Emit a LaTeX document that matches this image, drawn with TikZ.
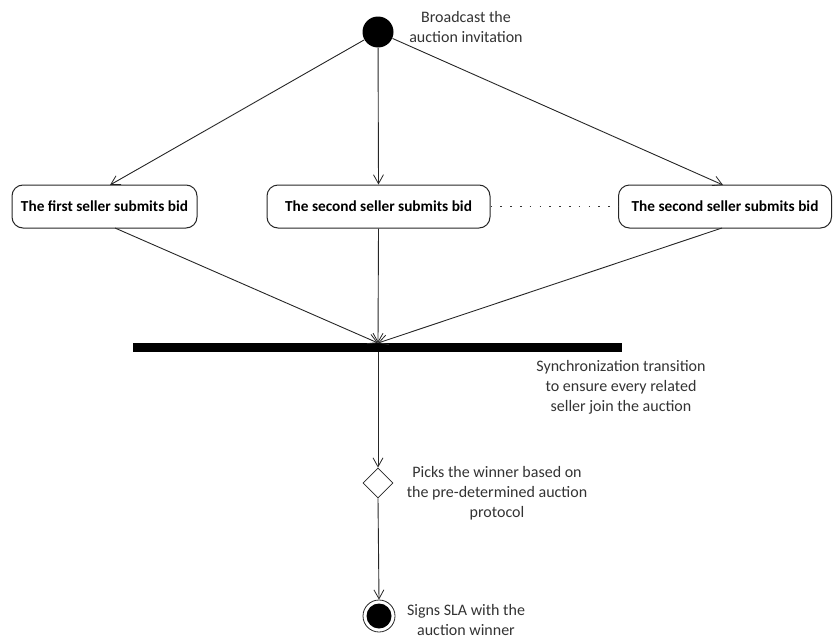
\documentclass[tikz,border=0pt]{standalone}
\usepackage{fontspec}
\setmainfont{Carlito}
\usetikzlibrary{arrows.meta,shapes.geometric}
\begin{document}
\begin{tikzpicture}[x=1pt,y=-1pt,
  line width=0.9pt,
  flow/.style={draw=black!85, -{Straight Barb[length=9pt,width=10pt,line width=0.8pt]}},
  act/.style={draw=black!85, rounded corners=11pt, line width=1pt, font=\fontsize{15.3}{17}\selectfont\bfseries, inner sep=0pt},
  note/.style={align=center, font=\fontsize{16}{20}\selectfont, text=black!80}
]
\useasboundingbox (0,0) rectangle (833,640);
% start
\node[circle, fill=black, minimum size=31pt, inner sep=0pt] (start) at (378,32) {};
\node[note] (tstart) at (466,27) {Broadcast the\\auction invitation};
% activities
\node[act, minimum width=185pt, minimum height=43pt] (b1) at (104.5,206.5) {The first seller submits bid};
\node[act, minimum width=223pt, minimum height=43pt] (b2) at (378.5,206.5) {The second seller submits bid};
\node[act, minimum width=213pt, minimum height=43pt] (b3) at (725,206.5) {The second seller submits bid};
\draw[line width=1.6pt, dash pattern=on 1.6pt off 8.2pt, black!80] (b2.east) -- (b3.east -| b3.west);
% arrows from start
\coordinate (a1) at (110,185);
\coordinate (a3) at (723,185);
\draw[flow] (start) -- (a1);
\draw[flow] (start) -- (b2.north);
\draw[flow] (start) -- (a3);
% sync bar
\node[fill=black, minimum width=489pt, minimum height=9pt, inner sep=0pt] (bar) at (377.5,347.5) {};
\coordinate (j) at (378,343);
\coordinate (d1) at (115,228);
\coordinate (d3) at (722,228);
\draw[flow] (d1) -- (j);
\draw[flow] (b2.south) -- (j);
\draw[flow] (d3) -- (j);
\node[note] (tsync) at (621,387) {Synchronization transition\\to ensure every related\\seller join the auction};
% decision
\node[diamond, draw=black!85, line width=0.8pt, fill=white, minimum width=30pt, minimum height=30pt, inner sep=0pt] (dec) at (378,483) {};
\draw[flow] (bar.south -| dec.north) -- (dec.north);
\node[note] (tdec) at (497,493) {Picks the winner based on\\the pre-determined auction\\protocol};
% end
\node[circle, draw=black!85, line width=0.8pt, minimum size=32pt, inner sep=0pt] (end) at (379,616) {};
\fill[black] (end.center) circle (12.5pt);
\draw[flow] (dec.south) -- (end.north);
\node[note] (tend) at (466,620) {Signs SLA with the\\auction winner};
\end{tikzpicture}
\end{document}
